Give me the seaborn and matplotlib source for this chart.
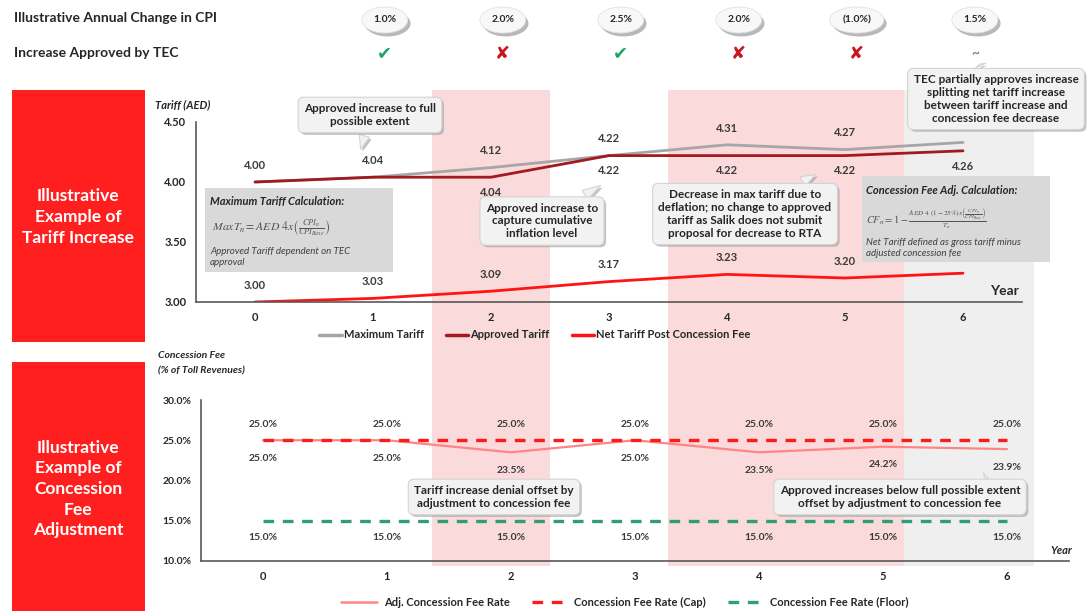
import matplotlib
matplotlib.use("Agg")
import matplotlib.pyplot as plt
import matplotlib.patheffects as pe
from matplotlib.patches import Rectangle
from matplotlib.lines import Line2D
from matplotlib.transforms import blended_transform_factory
import seaborn as sns

# --- data ---
years = [0, 1, 2, 3, 4, 5, 6]
max_tariff = [4.00, 4.04, 4.12, 4.22, 4.31, 4.27, 4.33]
approved_tariff = [4.00, 4.04, 4.04, 4.22, 4.22, 4.22, 4.26]
net_tariff = [3.00, 3.03, 3.09, 3.17, 3.23, 3.20, 3.24]
adj_fee = [25.0, 25.0, 23.5, 25.0, 23.5, 24.2, 23.9]
cap_fee = [25.0, 25.0, 25.0, 25.0, 25.0, 25.0, 25.0]
floor_fee = [15.0, 15.0, 15.0, 15.0, 15.0, 15.0, 15.0]
cpi_years = [1, 2, 3, 4, 5, 6]
cpi_change = ["1.0%", "2.0%", "2.5%", "2.0%", "(1.0%)", "1.5%"]
tec_decision = ["yes", "no", "yes", "no", "no", "partial"]
max_label_years = [0, 1, 2, 3, 4, 5]
approved_label_years = [2, 3, 4, 5, 6]
net_label_years = [0, 1, 2, 3, 4, 5]
tariff_ticks = [3.00, 3.50, 4.00, 4.50]
fee_ticks = [10.0, 15.0, 20.0, 25.0, 30.0]

sns.set_style("white")
plt.rcParams["font.family"] = ["Lato", "DejaVu Sans"]
plt.rcParams["mathtext.fontset"] = "stix"

W, H = 1092, 611


def fx(x):
    return x / W


def fy(y):
    return 1 - y / H


TXT = "#262626"
LBL = "#3a3a3a"
SPINE = "#595959"

fig = plt.figure(figsize=(10.92, 6.11), dpi=100)
ax1 = fig.add_axes([fx(196), fy(302), (1022 - 196) / W, (302 - 122) / H])
ax2 = fig.add_axes([fx(201), fy(561), (1069 - 201) / W, (561 - 400) / H])
for ax in (ax1, ax2):
    ax.set_facecolor("none")

# shaded year bands (denied = pink, partial = grey)
band_tr = blended_transform_factory(ax1.transData, fig.transFigure)
for yr, d in zip(cpi_years, tec_decision):
    if d == "yes":
        continue
    col = "#fadada" if d == "no" else "#efefef"
    wid = 1 if d == "no" else 1.1
    fig.add_artist(Rectangle((yr - 0.5, fy(566)), wid, fy(90) - fy(566),
                             transform=band_tr, fc=col, lw=0, zorder=-5))

# red side boxes
fig.add_artist(Rectangle((fx(12), fy(342)), (145 - 12) / W, (342 - 90) / H,
                         transform=fig.transFigure, fc="#ff1f1f", lw=0, zorder=-4))
fig.add_artist(Rectangle((fx(12), fy(611)), (145 - 12) / W, (611 - 362) / H,
                         transform=fig.transFigure, fc="#ff1f1f", lw=0, zorder=-4))
fig.text(fx(78), fy(217), "Illustrative\nExample of\nTariff Increase", color="white",
         fontsize=12.5, fontweight="bold", ha="center", va="center", linespacing=1.35)
fig.text(fx(78), fy(489), "Illustrative\nExample of\nConcession\nFee\nAdjustment", color="white",
         fontsize=12.5, fontweight="bold", ha="center", va="center", linespacing=1.35)

# --- header rows ---
fig.text(fx(14), fy(18), "Illustrative Annual Change in CPI", fontsize=10,
         fontweight="bold", color=TXT, va="center")
fig.text(fx(14), fy(53), "Increase Approved by TEC", fontsize=10,
         fontweight="bold", color=TXT, va="center")
shadow = [pe.withSimplePatchShadow(offset=(1.5, -1.5), shadow_rgbFace="#9a9a9a", alpha=0.6)]
pill_shadow = [pe.withSimplePatchShadow(offset=(2, -2.5), shadow_rgbFace="#8a8a8a", alpha=0.6)]
symbols = {"yes": ("\u2714", "#1fa463"), "no": ("\u2718", "#c8161d"), "partial": ("~", "#808080")}
for yr, c, d in zip(cpi_years, cpi_change, tec_decision):
    t = fig.text(yr + 0.1, fy(20), c, transform=band_tr, ha="center", va="center",
                 fontsize=7.5, fontweight="bold", color=TXT,
                 bbox=dict(boxstyle="ellipse,pad=0.45", fc="#f8f8f8",
                           ec="#e2e2e2", lw=0.6))
    t.get_bbox_patch().set_path_effects(pill_shadow)
    s, col = symbols[d]
    fig.text(yr + 0.1, fy(53), s, transform=band_tr, ha="center", va="center",
             fontsize=13 if d != "partial" else 10, color=col, fontweight="bold")

# --- top chart: tariffs ---
sns.lineplot(x=years, y=max_tariff, ax=ax1, color="#a6a6a6", lw=2.0)
sns.lineplot(x=years, y=approved_tariff, ax=ax1, color="#a11a1f", lw=2.0)
sns.lineplot(x=years, y=net_tariff, ax=ax1, color="#ff1414", lw=2.0)

for i in max_label_years:
    ax1.annotate(f"{max_tariff[i]:.2f}", (years[i], max_tariff[i]), xytext=(0, 12),
                 textcoords="offset points", ha="center", va="center", fontsize=8,
                 fontweight="bold", color=LBL)
for i in approved_label_years:
    ax1.annotate(f"{approved_tariff[i]:.2f}", (years[i], approved_tariff[i]), xytext=(0, -11),
                 textcoords="offset points", ha="center", va="center", fontsize=8,
                 fontweight="bold", color=LBL)
for i in net_label_years:
    ax1.annotate(f"{net_tariff[i]:.2f}", (years[i], net_tariff[i]), xytext=(0, 12),
                 textcoords="offset points", ha="center", va="center", fontsize=8,
                 fontweight="bold", color=LBL)

ax1.set_xlim(-0.5, 6.5)
ax1.set_ylim(3.0, 4.5)
ax1.set_yticks(tariff_ticks)
ax1.set_yticklabels([f"{v:.2f}" for v in tariff_ticks], fontsize=8, fontweight="bold", color=TXT)

# --- bottom chart: concession fee ---
sns.lineplot(x=years, y=adj_fee, ax=ax2, color="#ff8585", lw=1.6)
sns.lineplot(x=years, y=cap_fee, ax=ax2, color="#ff1a1a", lw=2.4, linestyle=(0, (3.2, 2.6)))
sns.lineplot(x=years, y=floor_fee, ax=ax2, color="#2f9e74", lw=2.4, linestyle=(0, (3.2, 2.6)))

for i in range(len(years)):
    ax2.annotate(f"{cap_fee[i]:.1f}%", (years[i], cap_fee[i]), xytext=(0, 11),
                 textcoords="offset points", ha="center", va="center", fontsize=7.5,
                 fontweight="bold", color=LBL)
    ax2.annotate(f"{adj_fee[i]:.1f}%", (years[i], adj_fee[i]), xytext=(0, -13),
                 textcoords="offset points", ha="center", va="center", fontsize=7.5,
                 fontweight="bold", color=LBL)
    ax2.annotate(f"{floor_fee[i]:.1f}%", (years[i], floor_fee[i]), xytext=(0, -12),
                 textcoords="offset points", ha="center", va="center", fontsize=7.5,
                 fontweight="bold", color=LBL)

ax2.set_xlim(-0.5, 6.5)
ax2.set_ylim(10, 30)
ax2.set_yticks(fee_ticks)
ax2.set_yticklabels([f"{v:.1f}%" for v in fee_ticks], fontsize=7.5, fontweight="bold", color=TXT)

for ax in (ax1, ax2):
    sns.despine(ax=ax)
    for sp in ("left", "bottom"):
        ax.spines[sp].set_color(SPINE)
        ax.spines[sp].set_linewidth(1.2)
    ax.set_xticks([y - 0.5 for y in years] + [6.5])
    ax.set_xticks(years, minor=True)
    ax.set_xticklabels([str(y) for y in years], minor=True, fontsize=8,
                       fontweight="bold", color=TXT)
    ax.tick_params(axis="x", which="major", length=4, width=1, color=SPINE, labelbottom=False)
    ax.tick_params(axis="x", which="minor", length=0, pad=7)
    ax.tick_params(axis="y", length=3, width=1, color=SPINE, pad=4)
    ax.set_xlabel("")
    ax.set_ylabel("")

# axis titles
fig.text(fx(155), fy(105), "Tariff (AED)", fontsize=8, fontstyle="italic",
         fontweight="bold", color=TXT, va="center")
fig.text(fx(990), fy(291), "Year", fontsize=10, fontweight="bold", color=TXT, va="center")
fig.text(fx(158), fy(355), "Concession Fee", fontsize=7.5, fontstyle="italic",
         fontweight="bold", color=TXT, va="center")
fig.text(fx(158), fy(371), "(% of Toll Revenues)", fontsize=7.5, fontstyle="italic",
         fontweight="bold", color=TXT, va="center")
fig.text(fx(1050), fy(550), "Year", fontsize=8, fontstyle="italic", fontweight="bold",
         color=TXT, va="center")

# legends
h1 = [Line2D([], [], color="#a6a6a6", lw=2.5), Line2D([], [], color="#a11a1f", lw=2.5),
      Line2D([], [], color="#ff1414", lw=2.5)]
fig.legend(h1, ["Maximum Tariff", "Approved Tariff", "Net Tariff Post Concession Fee"],
           loc="center", bbox_to_anchor=(fx(535), fy(335)), ncol=3, frameon=False,
           handlelength=2.0, handletextpad=0.2, columnspacing=2.0,
           prop={"weight": "bold", "size": 8})
h2 = [Line2D([], [], color="#ff8585", lw=1.8),
      Line2D([], [], color="#ff1a1a", lw=2.4, linestyle=(0, (3.2, 2.6))),
      Line2D([], [], color="#2f9e74", lw=2.4, linestyle=(0, (3.2, 2.6)))]
fig.legend(h2, ["Adj. Concession Fee Rate", "Concession Fee Rate (Cap)",
                "Concession Fee Rate (Floor)"],
           loc="center", bbox_to_anchor=(fx(625), fy(602)), ncol=3, frameon=False,
           handlelength=3.2, handletextpad=0.6, columnspacing=2.0,
           prop={"weight": "bold", "size": 8})

# grey calculation boxes
fig.add_artist(Rectangle((fx(205), fy(272)), (393 - 205) / W, (272 - 188) / H,
                         transform=fig.transFigure, fc="#d9d9d9", lw=0, zorder=2))
fig.text(fx(210), fy(202), "Maximum Tariff Calculation:", fontsize=8, fontstyle="italic",
         fontweight="bold", color=TXT, va="center")
fig.text(fx(212), fy(228), r"$MaxT_n = AED\ 4x\left(\frac{CPI_n}{CPI_{Base}}\right)$",
         fontsize=8.5, color="#555555", va="center")
fig.text(fx(210), fy(257), "Approved Tariff dependent on TEC\napproval", fontsize=7,
         fontstyle="italic", color="#404040", va="center", linespacing=1.3)

fig.add_artist(Rectangle((fx(862), fy(262)), (1050 - 862) / W, (262 - 176) / H,
                         transform=fig.transFigure, fc="#d9d9d9", lw=0, zorder=2))
fig.text(fx(866), fy(191), "Concession Fee Adj. Calculation:", fontsize=8,
         fontstyle="italic", fontweight="bold", color=TXT, va="center")
fig.text(fx(866), fy(219),
         r"$CF_n = 1 - \frac{AED\ 4\ (1-25\%)x\left(\frac{CPI_n}{CPI_{Base}}\right)}{T_n}$",
         fontsize=7.5, color="#555555", va="center")
fig.text(fx(866), fy(248), "Net Tariff defined as gross tariff minus\nadjusted concession fee",
         fontsize=7, fontstyle="italic", color="#404040", va="center", linespacing=1.3)


# callouts
def callout(text, cx, cy, tx=None, ty=None):
    kw = dict(ha="center", va="center", fontsize=8.5, fontweight="bold", color=TXT,
              linespacing=1.2, xycoords="figure fraction", textcoords="figure fraction",
              bbox=dict(boxstyle="round,pad=0.5,rounding_size=0.5", fc="#f2f2f2",
                        ec="#d4d4d4", lw=0.8),
              annotation_clip=False, zorder=6)
    if tx is not None:
        kw["arrowprops"] = dict(arrowstyle="wedge,tail_width=0.9,shrink_factor=0.5",
                                fc="#f2f2f2", ec="#d4d4d4", lw=0.8)
        ann = fig.add_artist(plt.Annotation(text, xy=(fx(tx), fy(ty)), xytext=(fx(cx), fy(cy)), **kw))
        ann.arrow_patch.set_path_effects(shadow)
    else:
        ann = fig.add_artist(plt.Annotation(text, xy=(fx(cx), fy(cy)), xytext=(fx(cx), fy(cy)), **kw))
    ann.get_bbox_patch().set_path_effects(shadow)
    return ann


callout("Approved increase to full\npossible extent", 370, 115, 360, 152)
callout("Approved increase to\ncapture cumulative\ninflation level", 542, 221, 603, 184)
callout("Decrease in max tariff due to\ndeflation; no change to approved\n"
        "tariff as Salik does not submit\nproposal for decrease to RTA", 745, 214, 818, 173)
callout("TEC partially approves increase\nsplitting net tariff increase\n"
        "between tariff increase and\nconcession fee decrease", 996, 99, 980, 64)
callout("Tariff increase denial offset by\nadjustment to concession fee", 494, 497)
callout("Approved increases below full possible extent\noffset by adjustment to concession fee",
        900, 497, 990, 477)

fig.savefig("out.png", dpi=100)
